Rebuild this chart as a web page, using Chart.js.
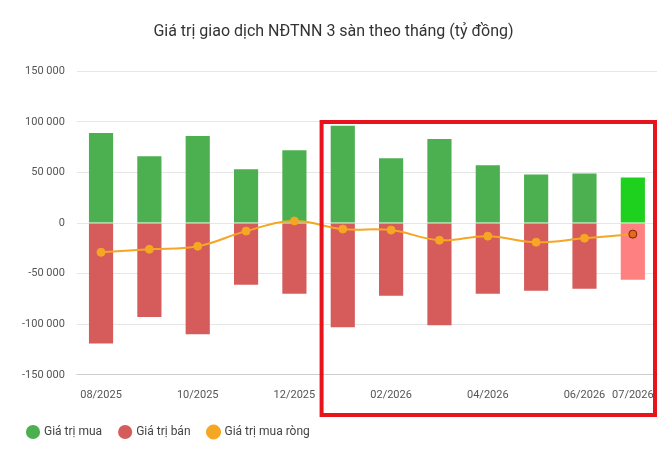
<!DOCTYPE html>
<html>
<head>
<meta charset="utf-8">
<script src="https://cdn.jsdelivr.net/npm/chart.js@4"></script>
<style>
  body { margin: 0; background: #fff; }
  #wrap { width: 667px; height: 460px; }
</style>
</head>
<body>
<div id="wrap"><canvas id="graphNdtnn"></canvas></div>
<script>
var months = ['08/2025', '09/2025', '10/2025', '11/2025', '12/2025', '01/2026', '02/2026', '03/2026', '04/2026', '05/2026', '06/2026', '07/2026'];
var shownMonths = ['08/2025', '10/2025', '12/2025', '02/2026', '04/2026', '06/2026', '07/2026'];
var buyValues = [89000, 66000, 86000, 53000, 72000, 96000, 64000, 83000, 57000, 48000, 49000, 45000];
var sellValues = [-119000, -93000, -110000, -61000, -70000, -103000, -72000, -101000, -70000, -67000, -65000, -56000];
var netValues = [-29000, -26000, -23000, -8000, 2000, -6000, -7000, -17000, -13000, -19000, -15000, -11000];

function fmt(v) {
    return String(Math.abs(v)).replace(/\B(?=(\d{3})+(?!\d))/g, ' ').replace(/^/, v < 0 ? '-' : '');
}

var buyColors = months.map(function (m, i) { return i === months.length - 1 ? '#1fd11f' : '#4caf50'; });
var sellColors = months.map(function (m, i) { return i === months.length - 1 ? '#ff8080' : '#d65b5b'; });
var netPointColors = months.map(function (m, i) { return i === months.length - 1 ? '#e8691e' : '#f5a623'; });
var netPointBorders = months.map(function (m, i) { return i === months.length - 1 ? '#6b2a00' : '#f5a623'; });

// red highlight box drawn around the last months
var highlightBox = {
    id: 'highlightBox',
    afterDraw: function (chart) {
        var ctx = chart.ctx, x = chart.scales.x;
        var left = (x.getPixelForValue(4) + x.getPixelForValue(5)) / 2 + 3;
        ctx.save();
        ctx.strokeStyle = '#e8141c';
        ctx.lineWidth = 4;
        ctx.strokeRect(left, 122, chart.width - 12 - left, 293);
        ctx.restore();
    }
};

new Chart(document.getElementById('graphNdtnn').getContext('2d'), {
    type: 'bar',
    data: {
        labels: months,
        datasets: [
            { type: 'line', label: 'Giá trị mua ròng', data: netValues, stack: 'net',
              borderColor: '#f5a623', backgroundColor: '#f5a623', borderWidth: 2,
              pointBackgroundColor: netPointColors, pointBorderColor: netPointBorders, pointBorderWidth: 1,
              pointRadius: 4, tension: 0.4, order: 0 },
            { label: 'Giá trị mua', data: buyValues, backgroundColor: buyColors, stack: 'bars', order: 1 },
            { label: 'Giá trị bán', data: sellValues, backgroundColor: sellColors, stack: 'bars', order: 1 }
        ]
    },
    options: {
        responsive: true,
        maintainAspectRatio: false,
        animation: false,
        datasets: { bar: { barPercentage: 0.5, categoryPercentage: 1 } },
        layout: { padding: { left: 10, right: 10, top: 12, bottom: 12 } },
        plugins: {
            title: { display: true, text: 'Giá trị giao dịch NĐTNN 3 sàn theo tháng (tỷ đồng)',
                     color: '#333', font: { family: 'Roboto', size: 16, weight: 'normal' },
                     padding: { top: 10, bottom: 30 } },
            legend: { position: 'bottom', align: 'start',
                      labels: { usePointStyle: true, pointStyle: 'circle', boxWidth: 10, boxHeight: 10,
                                color: '#444', font: { family: 'Roboto', size: 12 }, padding: 18,
                                sort: function (a, b) { return b.datasetIndex === 0 ? -1 : a.datasetIndex === 0 ? 1 : a.datasetIndex - b.datasetIndex; } } }
        },
        scales: {
            x: { stacked: true, grid: { display: false },
                 ticks: { autoSkip: false, maxRotation: 0, padding: 6, color: '#555', font: { family: 'Roboto', size: 11 },
                          callback: function (v) { var l = months[v]; return shownMonths.indexOf(l) >= 0 ? l : ''; } } },
            y: { stacked: true, min: -150000, max: 150000,
                 grid: { color: '#e6e6e6', drawTicks: false }, border: { display: false },
                 ticks: { stepSize: 50000, padding: 12, color: '#555', font: { family: 'Roboto', size: 11 }, callback: fmt } }
        }
    },
    plugins: [highlightBox]
});
</script>
</body>
</html>
